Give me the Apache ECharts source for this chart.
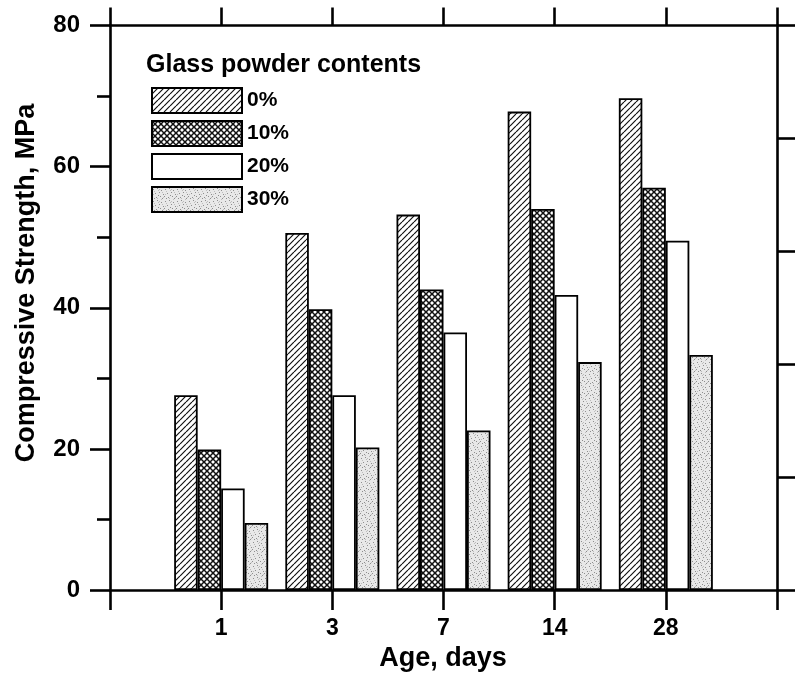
<!DOCTYPE html>
<html>
<head>
<meta charset="utf-8">
<script src="https://cdn.jsdelivr.net/npm/echarts@6/dist/echarts.min.js"></script>
<style>
  html, body { margin: 0; padding: 0; background: #fff; }
  #chart { width: 805px; height: 683px; }
</style>
</head>
<body>
<div id="chart"></div>
<script>
// Curing ages (days) shown on the horizontal axis
const ages = ['1', '3', '7', '14', '28'];
// Glass powder replacement levels
const contents = ['0%', '10%', '20%', '30%'];
// Compressive strength (MPa) per content level, one value per age
const strength0 = [27.6, 50.6, 53.2, 67.8, 69.7];
const strength10 = [19.9, 39.8, 42.6, 54.0, 57.0];
const strength20 = [14.4, 27.6, 36.5, 41.8, 49.5];
const strength30 = [9.5, 20.2, 22.6, 32.3, 33.3];
const yTicks = [0, 20, 40, 60, 80];

const FONT = '"Liberation Sans", Arial, Helvetica, sans-serif';

// ---- fill textures ----
function makeTile(size, draw) {
  const c = document.createElement('canvas');
  c.width = size; c.height = size;
  const ctx = c.getContext('2d');
  draw(ctx, size);
  return c;
}
function diag(ctx, s, dir) {
  ctx.beginPath();
  for (let k = -1; k <= 1; k++) {
    if (dir > 0) { ctx.moveTo(k * s, s); ctx.lineTo(k * s + s, 0); }
    else { ctx.moveTo(k * s, 0); ctx.lineTo(k * s + s, s); }
  }
  ctx.stroke();
}
const hatchTile = makeTile(6, (ctx, s) => {
  ctx.fillStyle = '#fff'; ctx.fillRect(0, 0, s, s);
  ctx.strokeStyle = '#111'; ctx.lineWidth = 1.2;
  diag(ctx, s, 1);
});
const crossTile = makeTile(6, (ctx, s) => {
  ctx.fillStyle = '#fff'; ctx.fillRect(0, 0, s, s);
  ctx.strokeStyle = '#111'; ctx.lineWidth = 1.5;
  diag(ctx, s, 1); diag(ctx, s, -1);
});
const stippleTile = makeTile(12, (ctx, s) => {
  ctx.fillStyle = '#e8e8e8'; ctx.fillRect(0, 0, s, s);
  const dots = [[1,2],[5,1],[9,3],[3,6],[7,5],[11,7],[0,9],[4,10],[8,9],[10,11],[6,8],[2,11]];
  ctx.fillStyle = '#8e8e8e';
  dots.forEach(([x, y]) => ctx.fillRect(x, y, 1, 1));
  ctx.fillStyle = '#bdbdbd';
  [[2,4],[6,3],[10,5],[1,7],[5,11],[9,0],[11,10],[7,2]].forEach(([x, y]) => ctx.fillRect(x, y, 1, 1));
});
const fills = [
  { image: hatchTile, repeat: 'repeat' },
  { image: crossTile, repeat: 'repeat' },
  '#ffffff',
  { image: stippleTile, repeat: 'repeat' }
];
const values = [strength0, strength10, strength20, strength30];

const series = contents.map((name, i) => ({
  name: name,
  type: 'bar',
  xAxisIndex: 0,
  yAxisIndex: 0,
  barWidth: 23.5,
  barGap: '0%',
  data: values[i].map((v, k) => [k + 1, v]),
  itemStyle: { color: fills[i], borderColor: '#000', borderWidth: 1.8 },
  emphasis: { disabled: true }
}));

const axisLine = { show: true, onZero: false, lineStyle: { color: '#000', width: 2.6 } };

const chart = echarts.init(document.getElementById('chart'), null, { renderer: 'canvas' });
chart.setOption({
  animation: false,
  backgroundColor: '#fff',
  grid: { left: 110, right: 28, top: 25.5, bottom: 93, containLabel: false },
  title: {
    text: 'Glass powder contents',
    left: 146, top: 53, padding: 0,
    textStyle: { fontFamily: FONT, fontSize: 25, fontWeight: 'bold', color: '#000' }
  },
  legend: {
    orient: 'vertical',
    left: 146, top: 82,
    itemWidth: 90, itemHeight: 25, itemGap: 6,
    icon: 'rect',
    selectedMode: false,
    textStyle: { fontFamily: FONT, fontSize: 21, fontWeight: 'bold', color: '#000' },
    data: contents
  },
  xAxis: [
    {
      type: 'value', position: 'bottom', min: 0, max: 6, interval: 1,
      axisLine: axisLine,
      axisTick: { show: true, inside: false, length: 20, lineStyle: { color: '#000', width: 2.6 } },
      axisLabel: {
        margin: 27, fontFamily: FONT, fontSize: 23, fontWeight: 'bold', color: '#000',
        formatter: v => (v >= 1 && v <= ages.length) ? ages[v - 1] : ''
      },
      splitLine: { show: false }
    },
    {
      type: 'value', position: 'top', min: 0, max: 6, interval: 1,
      axisLine: axisLine,
      axisTick: { show: true, inside: false, length: 18, lineStyle: { color: '#000', width: 2.6 } },
      axisLabel: { show: false },
      splitLine: { show: false }
    }
  ],
  yAxis: [
    {
      type: 'value', position: 'left', min: 0, max: 80, interval: 20,
      axisLine: axisLine,
      axisTick: { show: true, inside: false, length: 20, lineStyle: { color: '#000', width: 2.6 } },
      minorTick: { show: true, splitNumber: 2, length: 13, lineStyle: { color: '#000', width: 2.6 } },
      axisLabel: {
        margin: 30, fontFamily: FONT, fontSize: 24, fontWeight: 'bold', color: '#000',
        formatter: v => yTicks.includes(v) ? String(v) : ''
      },
      splitLine: { show: false }
    },
    {
      type: 'value', position: 'right', min: 0, max: 5, interval: 1,
      axisLine: axisLine,
      axisTick: { show: true, inside: false, length: 18, lineStyle: { color: '#000', width: 2.6 } },
      axisLabel: { show: false },
      splitLine: { show: false }
    }
  ],
  graphic: [
    {
      type: 'text', x: 27, y: 283, rotation: Math.PI / 2,
      style: {
        text: 'Compressive Strength, MPa', fill: '#000',
        font: 'bold 27px ' + FONT, textAlign: 'center', textVerticalAlign: 'middle'
      }
    },
    {
      type: 'text', x: 443, y: 659,
      style: {
        text: 'Age, days', fill: '#000',
        font: 'bold 27px ' + FONT, textAlign: 'center', textVerticalAlign: 'middle'
      }
    }
  ],
  series: series
});
</script>
</body>
</html>
